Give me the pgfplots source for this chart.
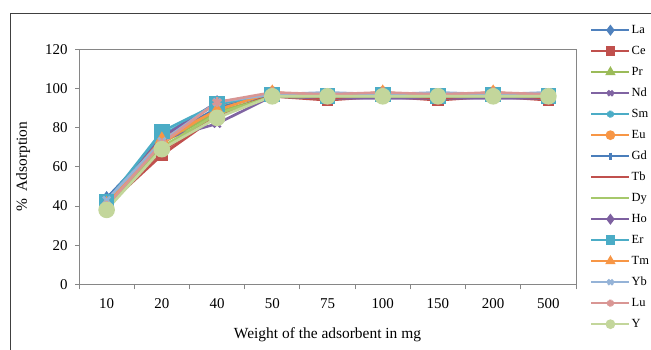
\documentclass[border=0pt]{standalone}
\usepackage{pgfplots}
\pgfplotsset{compat=1.18}
\usepackage{fontspec}
\setmainfont{Liberation Serif}
\usetikzlibrary{plotmarks}
\definecolor{cLa}{HTML}{4F81BD}
\definecolor{cCe}{HTML}{C0504D}
\definecolor{cPr}{HTML}{9BBB59}
\definecolor{cNd}{HTML}{8064A2}
\definecolor{cSm}{HTML}{4BACC6}
\definecolor{cEu}{HTML}{F79646}
\definecolor{cGd}{HTML}{4A7EBB}
\definecolor{cTb}{HTML}{C0504D}
\definecolor{cDy}{HTML}{A6C86B}
\definecolor{cHo}{HTML}{7D60A0}
\definecolor{cEr}{HTML}{4BACC6}
\definecolor{cTm}{HTML}{F79646}
\definecolor{cYb}{HTML}{95B3D7}
\definecolor{cLu}{HTML}{D99694}
\definecolor{cY}{HTML}{C3D69B}
\definecolor{axgray}{HTML}{868686}
\begin{document}
\begin{tikzpicture}[x=1bp,y=1bp]
\path[use as bounding box] (0,0) rectangle (651,349);
\draw[line width=1bp, black!75] (10,-5) -- (10,335) -- (660,335);
\begin{axis}[
  at={(79bp,64.7bp)}, anchor=south west,
  scale only axis, width=497bp, height=235bp,
  xmin=0.5, xmax=9.5, ymin=0, ymax=120,
  xtick={1,...,9},
  xticklabels={10,20,40,50,75,100,150,200,500},
  minor xtick={0.5,1.5,...,9.5},
  ytick={0,20,...,120},
  tick align=outside,
  major tick length=4bp,
  minor tick length=5bp,
  x tick style={draw=none},
  minor x tick style={draw=axgray, line width=0.8bp},
  y tick style={draw=axgray, line width=0.8bp},
  xtick pos=bottom, ytick pos=left,
  axis line style={draw=axgray, line width=0.8bp},
  tick label style={font=\fontsize{15}{17}\selectfont},
  xticklabel style={yshift=-7bp},
  yticklabel style={xshift=-4bp},
  /pgf/number format/assume math mode=true,
  xlabel={Weight of the adsorbent in mg},
  ylabel={\%\ \ Adsorption},
  label style={font=\fontsize{15.5}{18}\selectfont},
  xlabel style={yshift=-12bp},
  ylabel style={yshift=8bp},
  every axis plot/.append style={line width=2.6bp, mark options={solid}},
  legend cell align=left,
  legend style={at={(1.028,1.112)}, anchor=north west, draw=none, fill=none,
    font=\fontsize{12.5}{14}\selectfont, inner sep=0pt, row sep=7bp,
    nodes={text height=9bp, text depth=3bp, inner sep=1bp}},
  legend image code/.code={\draw[mark repeat=2,mark phase=2] plot coordinates {(0bp,0bp) (19bp,0bp) (38bp,0bp)};},
  legend image post style={mark size=3.5bp, line width=2.6bp},
]
\addplot[color=cLa, mark=diamond*, mark size=5bp] coordinates {(1,44)(2,70)(3,86)(4,96)(5,96)(6,96)(7,96)(8,96)(9,96)};
\addplot[color=cCe, mark=square*, mark size=4.5bp] coordinates {(1,40)(2,66)(3,86)(4,96)(5,94)(6,96)(7,94)(8,96)(9,94)};
\addplot[color=cPr, mark=triangle*, mark size=5bp] coordinates {(1,40)(2,72)(3,88)(4,96)(5,95)(6,96)(7,95)(8,96)(9,95)};
\addplot[color=cNd, mark=x, mark size=5bp] coordinates {(1,42)(2,74)(3,82)(4,96)(5,95)(6,95)(7,95)(8,95)(9,95)};
\addplot[color=cSm, mark=asterisk, mark size=5bp] coordinates {(1,41)(2,76)(3,92)(4,97)(5,96)(6,97)(7,96)(8,97)(9,96)};
\addplot[color=cEu, mark=*, mark size=5bp] coordinates {(1,40)(2,72)(3,90)(4,98)(5,96)(6,98)(7,96)(8,98)(9,96)};
\addplot[color=cGd, mark=+, mark size=5bp] coordinates {(1,44)(2,74)(3,90)(4,97)(5,97)(6,97)(7,97)(8,97)(9,97)};
\addplot[color=cTb, mark=-, mark size=5bp] coordinates {(1,40)(2,68)(3,86)(4,97)(5,95)(6,97)(7,95)(8,97)(9,95)};
\addplot[color=cDy, mark=-, mark size=6bp] coordinates {(1,39)(2,70)(3,87)(4,96)(5,96)(6,96)(7,96)(8,96)(9,96)};
\addplot[color=cHo, mark=diamond*, mark size=5bp] coordinates {(1,42)(2,75)(3,93)(4,97)(5,96)(6,97)(7,96)(8,97)(9,96)};
\addplot[color=cEr, mark=square*, mark size=6.5bp] coordinates {(1,42)(2,78)(3,92)(4,97)(5,96)(6,97)(7,96)(8,97)(9,96)};
\addplot[color=cTm, mark=triangle*, mark size=5.5bp] coordinates {(1,41)(2,74)(3,89)(4,98)(5,96)(6,98)(7,96)(8,98)(9,96)};
\addplot[color=cYb, mark=x, mark size=5bp] coordinates {(1,43)(2,73)(3,93)(4,97)(5,98)(6,97)(7,98)(8,97)(9,98)};
\addplot[color=cLu, mark=asterisk, mark size=5bp] coordinates {(1,40)(2,72)(3,93)(4,98)(5,97)(6,98)(7,97)(8,98)(9,97)};
\addplot[color=cY, mark=*, mark size=7bp] coordinates {(1,38)(2,69)(3,85)(4,96)(5,96)(6,96)(7,96)(8,96)(9,96)};
\legend{La,Ce,Pr,Nd,Sm,Eu,Gd,Tb,Dy,Ho,Er,Tm,Yb,Lu,Y}
\end{axis}
\end{tikzpicture}
\end{document}
